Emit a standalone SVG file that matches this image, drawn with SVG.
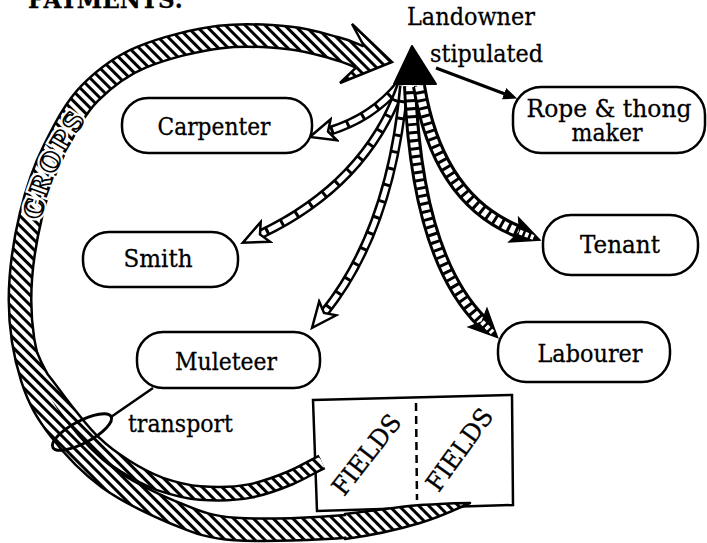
<svg xmlns="http://www.w3.org/2000/svg" width="707" height="543" viewBox="0 0 707 543">
<style>
text{font-family:"DejaVu Serif","Liberation Serif",serif;font-size:25px;fill:black;stroke:black;stroke-width:0.3}
.node rect{fill:white;stroke:black;stroke-width:2.5}
.lbl{text-anchor:middle}
.bandBlack{fill:none;stroke:black;stroke-linecap:butt;stroke-linejoin:round}
.bandHatch{fill:none;stroke:url(#hatch);stroke-linecap:butt;stroke-linejoin:round}
.hollowOut{fill:none;stroke:black;stroke-width:10}
.hollowIn{fill:none;stroke:white;stroke-width:5;stroke-dasharray:14 3;marker-end:url(#hollowHead)}
.ladderOut{fill:none;stroke:black;stroke-width:14}
.ladderIn{fill:none;stroke:white;stroke-width:8;stroke-dasharray:5 3;marker-end:url(#ladderHead)}
text.cropsKO{font-size:25px;font-weight:bold;letter-spacing:3px;fill:white;stroke:white;stroke-width:6}
text.cropsTx{font-size:25px;font-weight:bold;letter-spacing:3px;fill:white;stroke:black;stroke-width:1.6}
</style>
<defs>
<pattern id="hatch" patternUnits="userSpaceOnUse" width="7" height="7" patternTransform="rotate(-45)">
<rect width="7" height="7" fill="white"/>
<rect width="3" height="7" fill="black"/>
</pattern>
<marker id="hollowHead" markerUnits="userSpaceOnUse" viewBox="-2 -15 34 30" markerWidth="34" markerHeight="30" refX="6" refY="0" orient="auto">
<path d="M0,-11 L25,0 L0,11 L6,0 Z" fill="white" stroke="black" stroke-width="2.5"/>
</marker>
<marker id="ladderHead" markerUnits="userSpaceOnUse" viewBox="-2 -16 34 32" markerWidth="34" markerHeight="32" refX="6" refY="0" orient="auto">
<path d="M0,-13 L28,0 L0,13 L6,0 Z" fill="black" stroke="black" stroke-width="1.5"/>
<path d="M6,0 L21,0" stroke="white" stroke-width="5" stroke-dasharray="3.5 2.5"/>
</marker>
<marker id="smallHead" markerUnits="userSpaceOnUse" viewBox="0 -8 16 16" markerWidth="16" markerHeight="16" refX="1" refY="0" orient="auto">
<path d="M0,-6 L14,0 L0,6 Z" fill="black"/>
</marker>
<path id="cropsPath" d="M38,245 C40,205 54,165 84,122"/>
</defs>

<text x="28" y="8" font-weight="bold" font-size="25" textLength="155" lengthAdjust="spacingAndGlyphs">PAYMENTS:</text>

<g id="fields">
<polygon points="313,400 512,395 513,505 317,511" fill="none" stroke="black" stroke-width="2.5"/>
<line x1="416" y1="403" x2="417" y2="500" stroke="black" stroke-width="2.5" stroke-dasharray="8 5"/>
<text transform="translate(367,455) rotate(-52)" class="lbl" y="8" font-size="24" textLength="95" lengthAdjust="spacingAndGlyphs">FIELDS</text>
<text transform="translate(460,450) rotate(-54)" class="lbl" y="8" font-size="24" textLength="95" lengthAdjust="spacingAndGlyphs">FIELDS</text>
</g>

<g id="connectors">
<g id="crops-band">
<path class="bandBlack" stroke-width="25" d="M350,526 C316,529 265,531 235,529 C205,527 193,520 172,512 C151,503 127,492 108,478 C89,464 73,447 60,430 C47,413 39,400 32,378 C25,356 20,327 20,300 C20,273 25,240 31,215 C37,190 44,170 54,150 C64,130 75,108 90,93 C105,78 120,66 142,57 C164,48 195,40 220,37 C245,34 271,36 290,38 C309,40 323,45 335,48 C347,51 352,54 360,57"/>
<path class="bandBlack" stroke-width="16" d="M322,462 C311,467 302,473 290,478 C278,483 265,488 250,491 C235,494 215,494 200,493 C185,492 172,488 160,484 C147,479 136,473 125,466 C114,459 104,452 95,443 C85,434 77,423 68,412 C59,401 51,389 42,378 C35,366 27,350 23,328"/>
<path d="M345,514 C380,510 405,506 420,505 C440,504 455,503 470,503 C455,510 440,517 420,523 C400,529 375,535 345,539 Z" fill="url(#hatch)" stroke="black" stroke-width="2.5" stroke-linejoin="round"/>
<path class="bandHatch" stroke-width="20" d="M350,526 C316,529 265,531 235,529 C205,527 193,520 172,512 C151,503 127,492 108,478 C89,464 73,447 60,430 C47,413 39,400 32,378 C25,356 20,327 20,300 C20,273 25,240 31,215 C37,190 44,170 54,150 C64,130 75,108 90,93 C105,78 120,66 142,57 C164,48 195,40 220,37 C245,34 271,36 290,38 C309,40 323,45 335,48 C347,51 352,54 360,57"/>
<path class="bandHatch" stroke-width="11" d="M322,462 C311,467 302,473 290,478 C278,483 265,488 250,491 C235,494 215,494 200,493 C185,492 172,488 160,484 C147,479 136,473 125,466 C114,459 104,452 95,443 C85,434 77,423 68,412 C59,401 51,389 42,378 C35,366 27,350 23,328"/>
<polygon points="364,46 352,24 392,62 340,83 356,68 358,57" fill="url(#hatch)"/>
<polyline points="364,46 352,24 392,62 340,83 356,67.6" fill="none" stroke="black" stroke-width="2.5" stroke-linejoin="miter"/>
<text class="cropsKO"><textPath href="#cropsPath" startOffset="25">CROPS</textPath></text>
<text class="cropsTx"><textPath href="#cropsPath" startOffset="25">CROPS</textPath></text>
</g>
<ellipse cx="82" cy="432" rx="33" ry="11" transform="rotate(-28 82 432)" fill="none" stroke="black" stroke-width="3"/>
<line x1="153" y1="388" x2="111" y2="417" stroke="black" stroke-width="2.5"/>
<text x="128" y="432" textLength="105" lengthAdjust="spacingAndGlyphs">transport</text>

<path class="hollowOut" d="M400,84 Q373,118 328,131.5"/>
<path class="hollowIn" d="M400,84 Q373,118 328,131.5"/>
<path class="hollowOut" d="M401,86 Q366,184 260,234.5"/>
<path class="hollowIn" d="M401,86 Q366,184 260,234.5"/>
<path class="hollowOut" d="M404,86 Q391,230 324,313"/>
<path class="hollowIn" d="M404,86 Q391,230 324,313"/>
<path class="ladderOut" d="M410,86 Q417,257 482,322"/>
<path class="ladderIn" d="M410,86 Q417,257 482,322"/>
<path class="ladderOut" d="M419,86 Q438,200 519.5,232"/>
<path class="ladderIn" d="M419,86 Q438,200 519.5,232"/>

<line x1="436" y1="68" x2="505" y2="94" stroke="black" stroke-width="3" marker-end="url(#smallHead)"/>
<text x="430" y="62" textLength="113" lengthAdjust="spacingAndGlyphs">stipulated</text>
</g>

<g id="landowner">
<polygon points="412,46 436,84 394,84" fill="black" stroke="black" stroke-width="2" stroke-linejoin="round"/>
<text x="407" y="25" textLength="128" lengthAdjust="spacingAndGlyphs">Landowner</text>
</g>

<g id="carpenter" class="node">
<rect x="122" y="98" width="190" height="55" rx="26"/>
<text class="lbl" x="214" y="135" textLength="113" lengthAdjust="spacingAndGlyphs">Carpenter</text>
</g>
<g id="smith" class="node">
<rect x="83" y="232" width="155" height="55" rx="26"/>
<text class="lbl" x="158" y="267" textLength="69" lengthAdjust="spacingAndGlyphs">Smith</text>
</g>
<g id="muleteer" class="node">
<rect x="137" y="332" width="183" height="56" rx="26"/>
<text class="lbl" x="226" y="370" textLength="102" lengthAdjust="spacingAndGlyphs">Muleteer</text>
</g>
<g id="rope" class="node">
<rect x="513" y="87" width="192" height="66" rx="28"/>
<text class="lbl" font-size="23"><tspan x="609" y="117" textLength="165" lengthAdjust="spacingAndGlyphs">Rope &amp; thong</tspan><tspan x="607" y="141" textLength="71" lengthAdjust="spacingAndGlyphs">maker</tspan></text>
</g>
<g id="tenant" class="node">
<rect x="543" y="215" width="155" height="60" rx="28"/>
<text class="lbl" x="620" y="253" textLength="80" lengthAdjust="spacingAndGlyphs">Tenant</text>
</g>
<g id="labourer" class="node">
<rect x="498" y="322" width="172" height="60" rx="28"/>
<text class="lbl" x="590" y="362" textLength="105" lengthAdjust="spacingAndGlyphs">Labourer</text>
</g>
</svg>
